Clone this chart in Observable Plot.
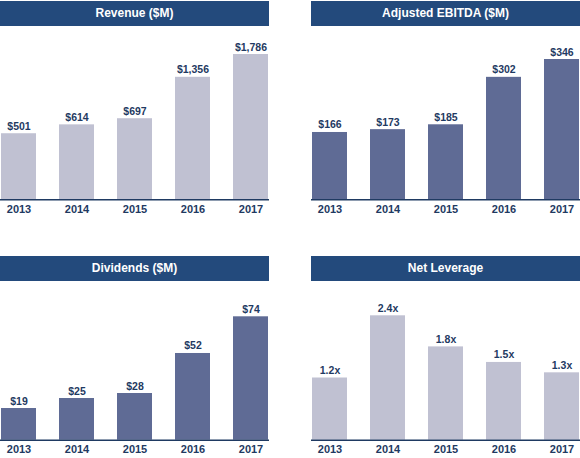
<!DOCTYPE html>
<html>
<head>
<meta charset="utf-8">
<script src="https://cdn.jsdelivr.net/npm/d3@7"></script>
<script src="https://cdn.jsdelivr.net/npm/@observablehq/plot@0.6"></script>
<style>
  html, body { margin: 0; padding: 0; background: #ffffff; }
  #root { position: relative; width: 580px; height: 458px; overflow: hidden; font-family: "Liberation Sans", Arial, Helvetica, sans-serif; }
  .panel { position: absolute; width: 269px; height: 229px; }
  .header { position: absolute; left: 0; width: 269px; height: 25px; line-height: 25px; background: #234a7c; color: #ffffff; font-weight: bold; font-size: 12px; text-align: center; }
  .panel svg { position: absolute; left: 0; top: 0; }
</style>
</head>
<body>
<div id="root"></div>
<script>
const years = ["2013", "2014", "2015", "2016", "2017"];
const revenue = [501, 614, 697, 1356, 1786];
const ebitda = [166, 173, 185, 302, 346];
const dividends = [19, 25, 28, 52, 74];
const leverage = [1.2, 2.4, 1.8, 1.5, 1.3];

const titles = ["Revenue ($M)", "Adjusted EBITDA ($M)", "Dividends ($M)", "Net Leverage"];

const LIGHT = "#c0c1d2";
const DARK = "#5f6b95";
const NAVY = "#1f3a62";
const money = v => "$" + d3.format(",")(v);
const times = v => v.toFixed(1) + "x";

const panels = [
  {title: titles[0], values: revenue, fill: LIGHT, fmt: money, left: 0, top: 0, headerTop: 1,
   baseline: 199.3, y: {type: "pow", exponent: 0.62, domain: [0, 1786], range: [199.3, 54.0]}},
  {title: titles[1], values: ebitda, fill: DARK, fmt: money, left: 311, top: 0, headerTop: 1,
   baseline: 199.3, y: {type: "linear", domain: [0, 346], range: [199.3, 59]}},
  {title: titles[2], values: dividends, fill: DARK, fmt: money, left: 0, top: 229, headerTop: 27,
   baseline: 210.7, y: {type: "linear", domain: [0, 74], range: [210.7, 87.3]}},
  {title: titles[3], values: leverage, fill: LIGHT, fmt: times, left: 311, top: 229, headerTop: 27,
   baseline: 210.7, y: {type: "linear", domain: [0, 2.4], range: [210.7, 86.3]}}
];

const root = document.getElementById("root");

for (const p of panels) {
  const data = years.map((year, i) => ({year, value: p.values[i], label: p.fmt(p.values[i])}));
  const div = document.createElement("div");
  div.className = "panel";
  div.style.left = p.left + "px";
  div.style.top = p.top + "px";

  const chart = Plot.plot({
    width: 269,
    height: 229,
    marginLeft: 0,
    marginRight: 0,
    marginTop: 0,
    marginBottom: 229 - p.baseline,
    style: {
      fontFamily: '"Liberation Sans", Arial, Helvetica, sans-serif',
      fontSize: "11px",
      fontWeight: "bold",
      color: NAVY,
      background: "transparent",
      overflow: "visible"
    },
    x: {domain: years, paddingInner: 0.4, paddingOuter: 0, align: 0.5, label: null},
    y: {...p.y, axis: null, label: null},
    marks: [
      Plot.barY(data, {x: "year", y: "value", fill: p.fill}),
      Plot.ruleY([0], {stroke: NAVY, strokeWidth: 1.6}),
      Plot.text(data, {x: "year", y: "value", text: "label", lineAnchor: "bottom", dy: -4,
        fill: NAVY, fontSize: 10.5, fontWeight: "bold"}),
      Plot.axisX({tickSize: 0, tickPadding: 5, label: null, fill: NAVY, fontSize: 11, fontWeight: "bold"})
    ]
  });
  div.appendChild(chart);

  const header = document.createElement("div");
  header.className = "header";
  header.style.top = p.headerTop + "px";
  header.textContent = p.title;
  div.appendChild(header);

  root.appendChild(div);
}
</script>
</body>
</html>
